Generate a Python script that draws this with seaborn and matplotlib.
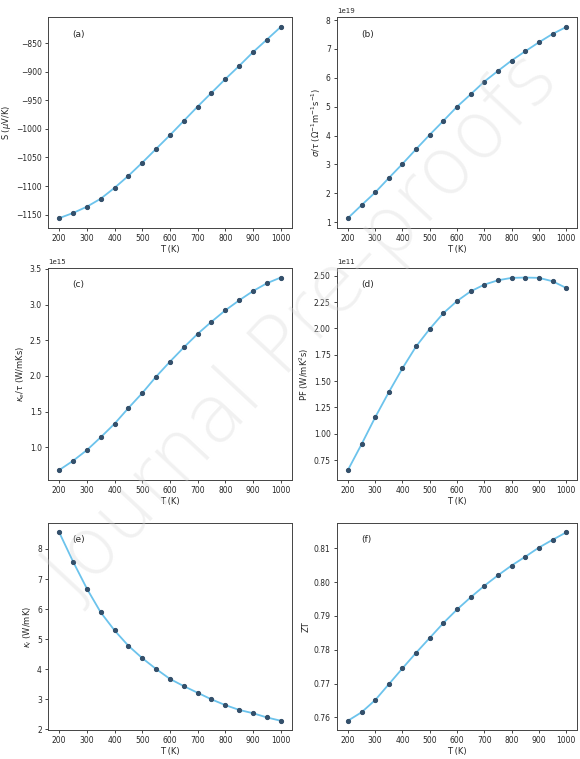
import matplotlib
matplotlib.use("Agg")
import matplotlib.pyplot as plt
import seaborn as sns
import pandas as pd

# Temperature grid (K)
temperature = [200, 250, 300, 350, 400, 450, 500, 550, 600,
               650, 700, 750, 800, 850, 900, 950, 1000]

# Seebeck coefficient (uV/K)
seebeck = [-1156, -1147, -1136, -1122, -1103, -1082, -1059, -1035, -1011,
           -986, -961, -937, -913, -890, -866, -844, -822]

# Electrical conductivity per relaxation time (1/(Ohm m s))
sigma_tau = [1.14e19, 1.59e19, 2.03e19, 2.53e19, 3.02e19, 3.53e19, 4.03e19,
             4.51e19, 5.00e19, 5.43e19, 5.87e19, 6.24e19, 6.60e19, 6.92e19,
             7.23e19, 7.52e19, 7.76e19]

# Electronic thermal conductivity per relaxation time (W/(m K s))
kappa_e_tau = [0.68e15, 0.81e15, 0.96e15, 1.14e15, 1.33e15, 1.55e15, 1.76e15,
               1.99e15, 2.20e15, 2.40e15, 2.59e15, 2.76e15, 2.92e15, 3.06e15,
               3.19e15, 3.30e15, 3.38e15]

# Power factor per relaxation time (W/(m K^2 s))
power_factor = [0.655e11, 0.900e11, 1.156e11, 1.395e11, 1.622e11, 1.830e11,
                1.996e11, 2.146e11, 2.261e11, 2.353e11, 2.417e11, 2.458e11,
                2.481e11, 2.484e11, 2.481e11, 2.449e11, 2.385e11]

# Lattice thermal conductivity (W/(m K))
kappa_l = [8.55, 7.58, 6.68, 5.89, 5.29, 4.78, 4.37, 4.01, 3.68,
           3.44, 3.22, 3.00, 2.81, 2.65, 2.54, 2.40, 2.29]

# Figure of merit
zt = [0.7590, 0.7615, 0.7651, 0.7698, 0.7745, 0.7791, 0.7835, 0.7879, 0.7919,
      0.7955, 0.7989, 0.8020, 0.8049, 0.8075, 0.8102, 0.8125, 0.8147]

panel_tags = ["(a)", "(b)", "(c)", "(d)", "(e)", "(f)"]
y_labels = [r"S ($\mu$V/K)",
            r"$\sigma/\tau$ ($\Omega^{-1}$m$^{-1}$s$^{-1}$)",
            r"$\kappa_e/\tau$ (W/mKs)",
            r"PF (W/mK$^2$s)",
            r"$\kappa_l$ (W/mK)",
            "ZT"]
x_ticks = [200, 300, 400, 500, 600, 700, 800, 900, 1000]

series = [seebeck, sigma_tau, kappa_e_tau, power_factor, kappa_l, zt]

sns.set_theme(style="ticks")
plt.rcParams["font.family"] = ["DejaVu Sans"]

fig = plt.figure(figsize=(5.8, 7.59), dpi=100)

# axes rectangles: [left, bottom, width, height] in figure fractions
col_left = [0.083, 0.581]
col_width = [0.420, 0.414]
row_bottom = [0.700, 0.368, 0.038]
row_height = [0.277, 0.279, 0.273]

for i, (values, tag, ylab) in enumerate(zip(series, panel_tags, y_labels)):
    r, c = divmod(i, 2)
    ax = fig.add_axes([col_left[c], row_bottom[r], col_width[c], row_height[r]])
    df = pd.DataFrame({"T": temperature, "v": values})
    sns.lineplot(data=df, x="T", y="v", ax=ax, color="#6cc3ec", linewidth=1.3,
                 marker="o", markersize=3.0, markerfacecolor="#34506b",
                 markeredgecolor="#34506b")
    ax.set_xticks(x_ticks)
    ax.set_xlabel("T (K)", fontsize=6, labelpad=1.5)
    ax.set_ylabel(ylab, fontsize=6, labelpad=2)
    ax.tick_params(labelsize=5.5, length=2.5, width=0.6, pad=2)
    ax.yaxis.get_offset_text().set_fontsize(5)
    for s in ax.spines.values():
        s.set_linewidth(0.7)
        s.set_color("#444444")
    ax.text(0.1, 0.92, tag, transform=ax.transAxes, fontsize=6.5,
            ha="left", va="center")

fig.text(0.52, 0.57, "Journal Pre-proofs", fontsize=58, color="#d8d8d8",
         alpha=0.35, rotation=47, ha="center", va="center", zorder=10,
         fontweight="light")

fig.savefig("out.png", dpi=100)
